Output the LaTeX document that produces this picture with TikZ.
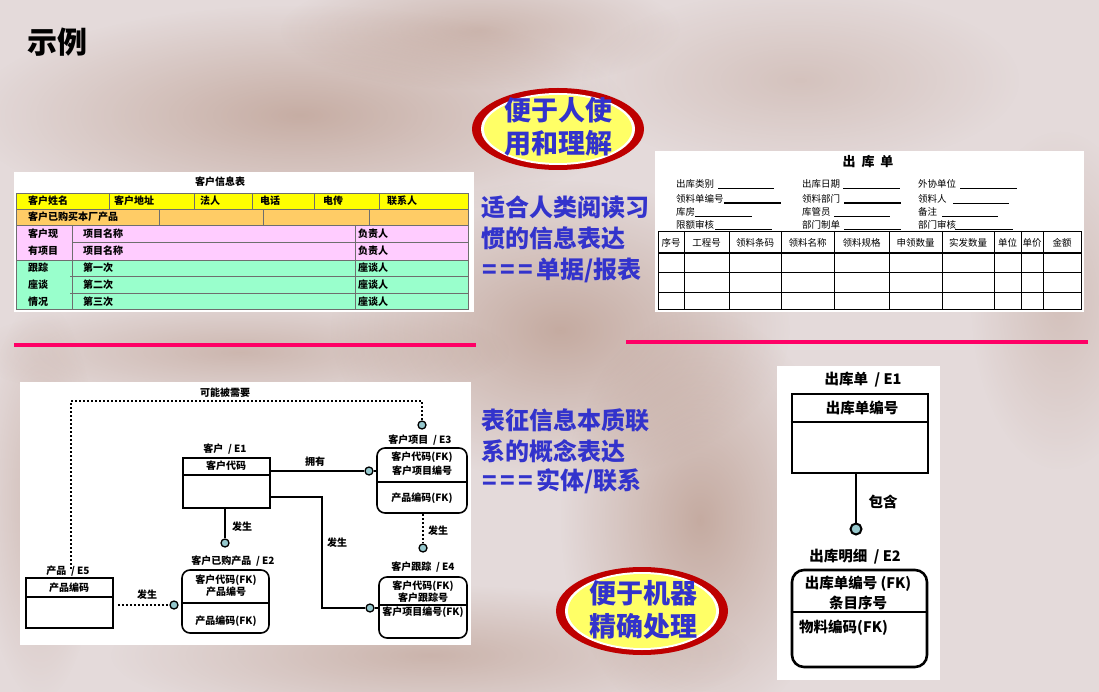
\documentclass[tikz,border=0pt]{standalone}
\usepackage{fontspec}
\setmainfont{Noto Sans CJK SC}
\usetikzlibrary{fadings,calc}

\definecolor{bgbase}{RGB}{228,218,218}
\definecolor{bgbrown}{RGB}{150,100,75}
\definecolor{txtblue}{RGB}{51,51,204}
\definecolor{ovred}{RGB}{190,0,0}
\definecolor{ovyellow}{RGB}{255,255,102}
\definecolor{rulepink}{RGB}{255,0,102}
\definecolor{rowyellow}{RGB}{255,255,0}
\definecolor{roworange}{RGB}{255,204,102}
\definecolor{rowpink}{RGB}{255,204,255}
\definecolor{rowgreen}{RGB}{153,255,204}
\definecolor{gridgray}{RGB}{110,110,110}
\definecolor{dotcyan}{RGB}{150,200,205}

\tikzfading[name=softedge, inner color=transparent!0, outer color=transparent!100]
\newcommand\fsz[1]{\fontsize{#1}{#1}\selectfont}
\newcommand\eqsep{\hspace{3.5pt}}

\begin{document}
\begin{tikzpicture}[x=1pt,y=-1pt,
  cell/.style={anchor=west, inner sep=0, font=\bfseries\fsz{10}},
  formtxt/.style={anchor=west, inner sep=0, font=\fsz{9.5}},
  headtxt/.style={inner sep=0, font=\fsz{9.5}},
  grid/.style={draw=gridgray, line width=0.8pt},
  bluetxt/.style={text=txtblue, inner sep=0, font=\bfseries\fsz{24}, align=left, anchor=west},
  ovaltxt/.style={text=txtblue, inner sep=0, font=\bfseries\fontsize{27}{33}\selectfont, align=center},
  erline/.style={line width=1.6pt},
  ertxt/.style={inner sep=0, font=\bfseries\fsz{10}},
  entsq/.style={draw, line width=1.6pt, inner sep=0},
  entrd/.style={draw, line width=1.6pt, inner sep=0, rounded corners=8pt},
  dotc/.style={circle, draw, fill=dotcyan, line width=1.3pt, minimum size=8pt, inner sep=0},
  dotline/.style={line width=2pt, dash pattern=on 2pt off 2pt},
  bigtxt/.style={inner sep=0, font=\bfseries\fsz{14.5}},
  bigline/.style={line width=2.6pt},
  blob/.style={bgbrown, path fading=softedge}]
\useasboundingbox (0,0) rectangle (1099,692);

% washed-out rocky backdrop
\fill[bgbase] (0,0) rectangle (1099,692);
\fill[blob, opacity=.38] (300,115) ellipse (330pt and 110pt);
\fill[blob, opacity=.30] (480,30) ellipse (200pt and 60pt);
\fill[blob, opacity=.40] (560,330) ellipse (230pt and 150pt);
\fill[blob, opacity=.40] (700,520) ellipse (140pt and 210pt);
\fill[blob, opacity=.32] (430,655) ellipse (320pt and 70pt);
\fill[blob, opacity=.30] (240,352) ellipse (270pt and 55pt);
\fill[blob, opacity=.22] (1060,300) ellipse (90pt and 170pt);
\fill[blob, opacity=.20] (800,80) ellipse (220pt and 90pt);
\fill[blob, opacity=.25] (40,500) ellipse (60pt and 200pt);

% heading
\node[anchor=west, inner sep=0, font=\bfseries\fsz{30}] (title) at (27,42) {示例};

% ---------- customer information sheet ----------
\fill[white] (14,172) rectangle (474,312);
\node[inner sep=0, font=\bfseries\fsz{10}] (custtitle) at (220,182) {客户信息表};
\fill[rowyellow] (16,193) rectangle (468,209);
\fill[roworange] (16,209) rectangle (468,225);
\fill[rowpink] (16,225) rectangle (468,260);
\fill[rowgreen] (16,260) rectangle (468,309);
\draw[grid] (16,193) rectangle (468,309);
\draw[grid] (16,209) -- (468,209) (16,225) -- (468,225) (72,242) -- (468,242)
  (16,260) -- (468,260) (70,276) -- (468,276) (70,293) -- (468,293);
\foreach \x in {109,194,252,314,379} \draw[grid] (\x,193) -- (\x,209);
\foreach \x in {159,263,369} \draw[grid] (\x,209) -- (\x,225);
\draw[grid] (72,225) -- (72,309) (355,225) -- (355,309);
\node[cell] (c1) at (28,201) {客户姓名};
\node[cell] (c2) at (114,201) {客户地址};
\node[cell] (c3) at (200,201) {法人};
\node[cell] (c4) at (260,201) {电话};
\node[cell] (c5) at (323,201) {电传};
\node[cell] (c6) at (387,201) {联系人};
\node[cell] (c7) at (28,217) {客户已购买本厂产品};
\node[cell] (c8) at (28,234) {客户现};
\node[cell] (c9) at (28,251) {有项目};
\node[cell] (c10) at (83,234) {项目名称};
\node[cell] (c11) at (83,251) {项目名称};
\node[cell] (c12) at (358,234) {负责人};
\node[cell] (c13) at (358,251) {负责人};
\node[cell] (c14) at (28,268) {跟踪};
\node[cell] (c15) at (28,285) {座谈};
\node[cell] (c16) at (28,302) {情况};
\node[cell] (c17) at (83,268) {第一次};
\node[cell] (c18) at (83,285) {第二次};
\node[cell] (c19) at (83,302) {第三次};
\node[cell] (c20) at (358,268) {座谈人};
\node[cell] (c21) at (358,285) {座谈人};
\node[cell] (c22) at (358,302) {座谈人};

% ---------- stock issue form ----------
\fill[white] (655,151) rectangle (1084,312);
\node[inner sep=0, font=\bfseries\fsz{13}] (formtitle) at (868,162) {出\ \ 库\ \ 单};
\node[formtxt] (f1) at (676,184) {出库类别};
\node[formtxt] (f2) at (802,184) {出库日期};
\node[formtxt] (f3) at (918,184) {外协单位};
\node[formtxt] (f4) at (676,199) {领料单编号};
\node[formtxt] (f5) at (802,199) {领料部门};
\node[formtxt] (f6) at (918,199) {领料人};
\node[formtxt] (f7) at (676,212) {库房};
\node[formtxt] (f8) at (802,212) {库管员};
\node[formtxt] (f9) at (918,212) {备注};
\node[formtxt] (f10) at (676,225) {限额审核};
\node[formtxt] (f11) at (802,225) {部门制单};
\node[formtxt] (f12) at (918,225) {部门审核};
\draw[line width=0.6pt] (718,188) -- (774,188) (843,188) -- (900,188) (960,188) -- (1017,188)
  (953,203) -- (1009,203) (695,216) -- (752,216) (834,216) -- (890,216) (942,216) -- (998,216)
  (715,229) -- (772,229) (844,229) -- (901,229) (955,229) -- (1013,229);
\draw[line width=1.1pt] (724,203) -- (781,203) (844,203) -- (901,203);
\draw[line width=0.7pt] (658,231) rectangle (1081,309);
\draw[line width=1.2pt] (658,253) -- (1081,253);
\draw[line width=0.7pt] (658,272) -- (1081,272) (658,292) -- (1081,292);
\foreach \x in {684,729,781,834,889,942,994,1021,1043} \draw[line width=0.7pt] (\x,231) -- (\x,309);
\node[headtxt] (h1) at (671,243) {序号};
\node[headtxt] (h2) at (706.5,243) {工程号};
\node[headtxt] (h3) at (755,243) {领料条码};
\node[headtxt] (h4) at (807.5,243) {领料名称};
\node[headtxt] (h5) at (861.5,243) {领料规格};
\node[headtxt] (h6) at (915.5,243) {申领数量};
\node[headtxt] (h7) at (968,243) {实发数量};
\node[headtxt] (h8) at (1007.5,243) {单位};
\node[headtxt] (h9) at (1032,243) {单价};
\node[headtxt] (h10) at (1062,243) {金额};

% ---------- badges ----------
\fill[ovred] (558,129) ellipse (86pt and 41pt);
\fill[white] (558,129) ellipse (77pt and 36pt);
\fill[ovyellow] (558,129) ellipse (74pt and 34pt);
\node[ovaltxt] (badgeA) at (558,127) {便于人使\\用和理解};

\fill[ovred] (642,611) ellipse (86pt and 44pt);
\fill[white] (642,611) ellipse (77pt and 39pt);
\fill[ovyellow] (642,611) ellipse (74pt and 37pt);
\node[ovaltxt] (badgeB) at (643,610) {便于机器\\精确处理};

% ---------- explanatory captions ----------
\node[bluetxt] (capA1) at (481,207) {适合人类阅读习};
\node[bluetxt] (capA2) at (481,238) {惯的信息表达};
\node[bluetxt] (capA3) at (482,270) {={\eqsep}={\eqsep}={\eqsep}单据/报表};
\node[bluetxt] (capB1) at (481,420) {表征信息本质联};
\node[bluetxt] (capB2) at (481,451) {系的概念表达};
\node[bluetxt] (capB3) at (482,481) {={\eqsep}={\eqsep}={\eqsep}实体/联系};

% separators
\draw[rulepink, line width=4.5pt] (14,345) -- (476,345);
\draw[rulepink, line width=4.5pt] (626,342) -- (1088,342);

% ---------- customer ER model ----------
\fill[white] (20,382) rectangle (471,645);

\node[entsq, minimum width=87pt, minimum height=50pt] (e1) at (226.5,483) {};
\draw[erline] (e1.west |- 0,475) -- (e1.east |- 0,475);
\node[ertxt] (e1lbl) at (225,449) {客户\ \ /\ E1};
\node[ertxt] (e1k) at (226,466) {客户代码};

\node[entrd, minimum width=90pt, minimum height=65pt] (e3) at (422,480.5) {};
\draw[erline] (e3.west |- 0,482) -- (e3.east |- 0,482);
\node[ertxt] (e3lbl) at (420,440) {客户项目\ \ /\ E3};
\node[ertxt] (e3k1) at (422,457) {客户代码(FK)};
\node[ertxt] (e3k2) at (422,471) {客户项目编号};
\node[ertxt] (e3a) at (422,498) {产品编码(FK)};

\node[entrd, minimum width=87pt, minimum height=63pt] (e2) at (225.5,601.5) {};
\draw[erline] (e2.west |- 0,603) -- (e2.east |- 0,603);
\node[ertxt] (e2lbl) at (233,561) {客户已购产品\ \ /\ E2};
\node[ertxt] (e2k1) at (226,580) {客户代码(FK)};
\node[ertxt] (e2k2) at (226,592) {产品编号};
\node[ertxt] (e2a) at (226,621) {产品编码(FK)};

\node[entrd, minimum width=88pt, minimum height=61pt] (e4) at (423,607.5) {};
\draw[erline] (e4.west |- 0,605) -- (e4.east |- 0,605);
\node[ertxt] (e4lbl) at (423,567) {客户跟踪\ \ /\ E4};
\node[ertxt] (e4k1) at (423,586) {客户代码(FK)};
\node[ertxt] (e4k2) at (423,598) {客户跟踪号};
\node[ertxt] (e4a) at (423,612) {客户项目编号(FK)};

\node[entsq, minimum width=87pt, minimum height=50pt] (e5) at (69.5,603) {};
\draw[erline] (e5.west |- 0,597) -- (e5.east |- 0,597);
\node[ertxt] (e5lbl) at (68,571) {产品\ \ /\ E5};
\node[ertxt] (e5k) at (69,588) {产品编码};

% relationships
\node[dotc] (d13) at (369,471) {};
\node[dotc] (d12) at (225,543) {};
\node[dotc] (d14) at (370,608) {};
\node[dotc] (d52) at (174,605) {};
\node[dotc] (d34) at (423,548) {};
\node[dotc] (d53) at (422,425) {};
\coordinate (bendA) at (322,497);
\coordinate (dl) at (71,401);
\coordinate (dr) at (422,401);

\draw[erline] (e1.east |- d13) -- (d13);
\draw[erline] (d13) -- (e3.west |- d13);
\draw[erline] (e1.east |- bendA) -- (bendA) |- (d14);
\draw[erline] (d14) -- (e4.west |- d14);
\draw[erline] (d12 |- e1.south) -- (d12);
\draw[dotline] (e5.east |- d52) ++(4pt,0) -- (d52);
\draw[dotline] (d34 |- e3.south) -- (d34);
\draw[dotline] (dl |- e5lbl.north) ++(0,-3pt) -- (dl) -- (dr) -- (d53);

\node[ertxt] (r1) at (225,393) {可能被需要};
\node[ertxt] (r2) at (315,462) {拥有};
\node[ertxt] (r3) at (242,527) {发生};
\node[ertxt] (r4) at (337,543) {发生};
\node[ertxt] (r5) at (147,595) {发生};
\node[ertxt] (r6) at (438,531) {发生};

% ---------- stock issue ER model ----------
\fill[white] (777,366) rectangle (940,680);
\node[draw, bigline, inner sep=0, minimum width=136pt, minimum height=79pt] (b1) at (860,433.5) {};
\draw[bigline] (b1.west |- 0,422) -- (b1.east |- 0,422);
\node[bigtxt] (b1lbl) at (863,380) {出库单\ \ /\ E1};
\node[bigtxt] (b1k) at (862,408) {出库单编号};

\node[draw, bigline, inner sep=0, rounded corners=12pt, minimum width=135pt, minimum height=97pt] (b2) at (859.5,618.5) {};
\draw[bigline] (b2.west |- 0,612) -- (b2.east |- 0,612);
\node[bigtxt] (b2lbl) at (855,557) {出库明细\ \ /\ E2};
\node[bigtxt] (b2k1) at (858,584) {出库单编号 (FK)};
\node[bigtxt] (b2k2) at (858,603) {条目序号};
\node[bigtxt, anchor=west] (b2a) at (799,628) {物料编码(FK)};

\node[circle, draw, fill=dotcyan, line width=2pt, minimum size=11pt, inner sep=0] (bd) at (856,529) {};
\draw[bigline] (bd |- b1.south) -- (bd);
\node[bigtxt] (bcon) at (883,502) {包含};
\end{tikzpicture}
\end{document}
